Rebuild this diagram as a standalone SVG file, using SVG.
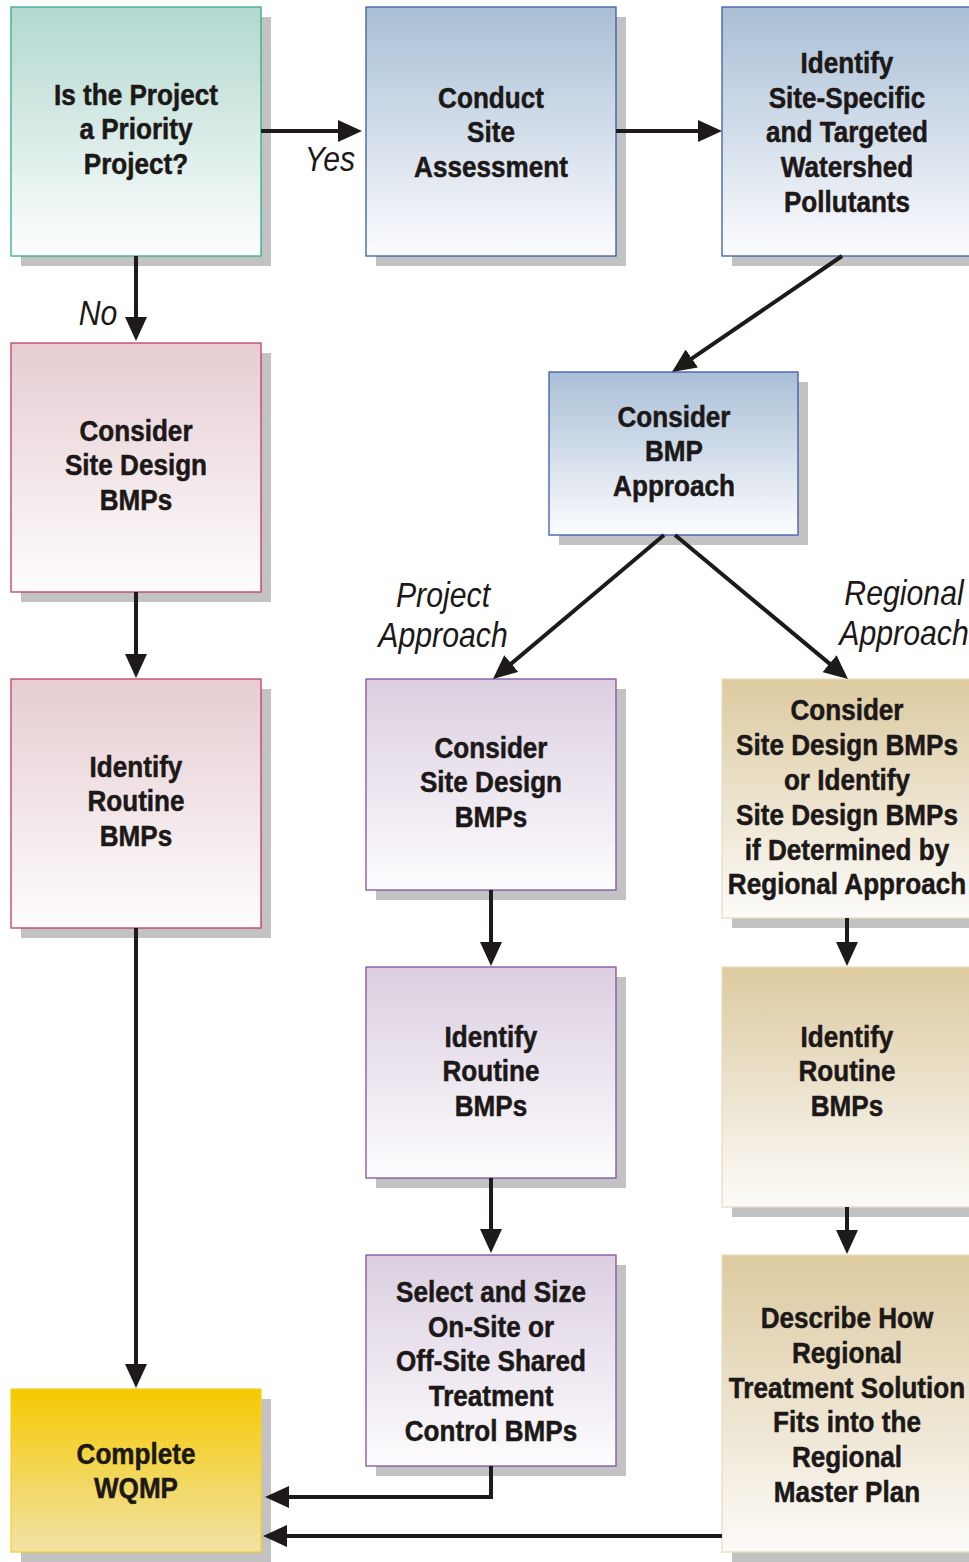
<svg xmlns="http://www.w3.org/2000/svg" width="969" height="1562" viewBox="0 0 969 1562">
<style>
.sh{fill:#c2c2c2}
.t{font-family:"Liberation Sans",Arial,sans-serif;font-weight:bold;font-size:29px;fill:#1c1818;stroke:#1c1818;stroke-width:0.5;text-anchor:middle}
.l{font-family:"Liberation Sans",Arial,sans-serif;font-style:italic;font-size:36px;fill:#1c1818;text-anchor:middle}
.c{fill:none;stroke:#1e1a1a;stroke-width:4}
</style>
<defs>
<linearGradient id="gTeal" x1="0" y1="0" x2="0" y2="1"><stop offset="0" stop-color="#b2d8cf"/><stop offset="1" stop-color="#fdfefe"/></linearGradient>
<linearGradient id="gBlue" x1="0" y1="0" x2="0" y2="1"><stop offset="0" stop-color="#a9bfd6"/><stop offset="1" stop-color="#fcfcfe"/></linearGradient>
<linearGradient id="gPink" x1="0" y1="0" x2="0" y2="1"><stop offset="0" stop-color="#e6cdd2"/><stop offset="1" stop-color="#fdfcfc"/></linearGradient>
<linearGradient id="gPurp" x1="0" y1="0" x2="0" y2="1"><stop offset="0" stop-color="#dbcfe0"/><stop offset="1" stop-color="#fdfcfe"/></linearGradient>
<linearGradient id="gTan" x1="0" y1="0" x2="0" y2="1"><stop offset="0" stop-color="#dccaa0"/><stop offset="1" stop-color="#fcfbf9"/></linearGradient>
<linearGradient id="gYel" x1="0" y1="0" x2="0" y2="1"><stop offset="0" stop-color="#f5c900"/><stop offset="1" stop-color="#f1e3a8"/></linearGradient>
<marker id="ah" markerUnits="userSpaceOnUse" markerWidth="24" markerHeight="22" refX="14" refY="11" orient="auto" viewBox="0 0 24 22">
<path d="M0,0 L24,11 L0,22 z" fill="#1e1a1a"/>
</marker>
</defs>

<g id="n1">
<rect class="sh" x="21" y="17" width="250" height="249"/>
<rect x="11" y="7" width="250" height="249" fill="url(#gTeal)" stroke="#2fae93" stroke-width="1.3"/>
<text class="t" transform="scale(0.9 1)"><tspan x="151.11" y="104.7">Is the Project</tspan><tspan x="151.11" y="139.5">a Priority</tspan><tspan x="151.11" y="174.3">Project?</tspan></text>
</g>

<g id="n2">
<rect class="sh" x="376" y="17" width="250" height="249"/>
<rect x="366" y="7" width="250" height="249" fill="url(#gBlue)" stroke="#3a5aa8" stroke-width="1.3"/>
<text class="t" transform="scale(0.9 1)"><tspan x="545.56" y="107.7">Conduct</tspan><tspan x="545.56" y="142.5">Site</tspan><tspan x="545.56" y="177.3">Assessment</tspan></text>
</g>

<g id="n3">
<rect class="sh" x="732" y="17" width="250" height="249"/>
<rect x="722" y="7" width="250" height="249" fill="url(#gBlue)" stroke="#3a5aa8" stroke-width="1.3"/>
<text class="t" transform="scale(0.9 1)"><tspan x="941.11" y="72.9">Identify</tspan><tspan x="941.11" y="107.7">Site-Specific</tspan><tspan x="941.11" y="142.5">and Targeted</tspan><tspan x="941.11" y="177.3">Watershed</tspan><tspan x="941.11" y="212.1">Pollutants</tspan></text>
</g>

<g id="n4">
<rect class="sh" x="559" y="382" width="249" height="163"/>
<rect x="549" y="372" width="249" height="163" fill="url(#gBlue)" stroke="#3a5aa8" stroke-width="1.3"/>
<text class="t" transform="scale(0.9 1)"><tspan x="748.89" y="426.7">Consider</tspan><tspan x="748.89" y="461.5">BMP</tspan><tspan x="748.89" y="496.3">Approach</tspan></text>
</g>

<g id="n5">
<rect class="sh" x="21" y="353" width="250" height="249"/>
<rect x="11" y="343" width="250" height="249" fill="url(#gPink)" stroke="#c0405a" stroke-width="1.3"/>
<text class="t" transform="scale(0.9 1)"><tspan x="151.11" y="440.7">Consider</tspan><tspan x="151.11" y="475.5">Site Design</tspan><tspan x="151.11" y="510.3">BMPs</tspan></text>
</g>

<g id="n6">
<rect class="sh" x="21" y="689" width="250" height="249"/>
<rect x="11" y="679" width="250" height="249" fill="url(#gPink)" stroke="#c0405a" stroke-width="1.3"/>
<text class="t" transform="scale(0.9 1)"><tspan x="151.11" y="776.7">Identify</tspan><tspan x="151.11" y="811.5">Routine</tspan><tspan x="151.11" y="846.3">BMPs</tspan></text>
</g>

<g id="n7">
<rect class="sh" x="21" y="1399" width="250" height="163"/>
<rect x="11" y="1389" width="250" height="163" fill="url(#gYel)" stroke="#f6d030" stroke-width="1.3"/>
<text class="t" transform="scale(0.9 1)"><tspan x="151.11" y="1463.6">Complete</tspan><tspan x="151.11" y="1498.4">WQMP</tspan></text>
</g>

<g id="n8">
<rect class="sh" x="376" y="689" width="250" height="211"/>
<rect x="366" y="679" width="250" height="211" fill="url(#gPurp)" stroke="#8050a0" stroke-width="1.3"/>
<text class="t" transform="scale(0.9 1)"><tspan x="545.56" y="757.7">Consider</tspan><tspan x="545.56" y="792.5">Site Design</tspan><tspan x="545.56" y="827.3">BMPs</tspan></text>
</g>

<g id="n9">
<rect class="sh" x="376" y="977" width="250" height="211"/>
<rect x="366" y="967" width="250" height="211" fill="url(#gPurp)" stroke="#8050a0" stroke-width="1.3"/>
<text class="t" transform="scale(0.9 1)"><tspan x="545.56" y="1046.7">Identify</tspan><tspan x="545.56" y="1081.5">Routine</tspan><tspan x="545.56" y="1116.3">BMPs</tspan></text>
</g>

<g id="n10">
<rect class="sh" x="376" y="1265" width="250" height="211"/>
<rect x="366" y="1255" width="250" height="211" fill="url(#gPurp)" stroke="#8050a0" stroke-width="1.3"/>
<text class="t" transform="scale(0.9 1)"><tspan x="545.56" y="1301.9">Select and Size</tspan><tspan x="545.56" y="1336.7">On-Site or</tspan><tspan x="545.56" y="1371.5">Off-Site Shared</tspan><tspan x="545.56" y="1406.3">Treatment</tspan><tspan x="545.56" y="1441.1">Control BMPs</tspan></text>
</g>

<g id="n11">
<rect class="sh" x="732" y="689" width="250" height="239"/>
<rect x="722" y="679" width="250" height="239" fill="url(#gTan)" stroke="#e8dcc0" stroke-width="1.3"/>
<text class="t" transform="scale(0.9 1)"><tspan x="941.11" y="720.5">Consider</tspan><tspan x="941.11" y="755.3">Site Design BMPs</tspan><tspan x="941.11" y="790.1">or Identify</tspan><tspan x="941.11" y="824.9">Site Design BMPs</tspan><tspan x="941.11" y="859.7">if Determined by</tspan><tspan x="941.11" y="894.5">Regional Approach</tspan></text>
</g>

<g id="n12">
<rect class="sh" x="732" y="977" width="250" height="240"/>
<rect x="722" y="967" width="250" height="240" fill="url(#gTan)" stroke="#e8dcc0" stroke-width="1.3"/>
<text class="t" transform="scale(0.9 1)"><tspan x="941.11" y="1046.7">Identify</tspan><tspan x="941.11" y="1081.5">Routine</tspan><tspan x="941.11" y="1116.3">BMPs</tspan></text>
</g>

<g id="n13">
<rect class="sh" x="732" y="1265" width="250" height="297"/>
<rect x="722" y="1255" width="250" height="297" fill="url(#gTan)" stroke="#e8dcc0" stroke-width="1.3"/>
<text class="t" transform="scale(0.9 1)"><tspan x="941.11" y="1328">Describe How</tspan><tspan x="941.11" y="1362.8">Regional</tspan><tspan x="941.11" y="1397.6">Treatment Solution</tspan><tspan x="941.11" y="1432.4">Fits into the</tspan><tspan x="941.11" y="1467.2">Regional</tspan><tspan x="941.11" y="1502">Master Plan</tspan></text>
</g>

<g id="connectors">
<path class="c" d="M261,131 H352" marker-end="url(#ah)"/>
<path class="c" d="M616,131 H712" marker-end="url(#ah)"/>
<path class="c" d="M842,256 L680.3,366.4" marker-end="url(#ah)"/>
<path class="c" d="M136,256 V331" marker-end="url(#ah)"/>
<path class="c" d="M136,592 V668" marker-end="url(#ah)"/>
<path class="c" d="M136,928 V1378" marker-end="url(#ah)"/>
<path class="c" d="M664,535 L500.6,672.6" marker-end="url(#ah)"/>
<path class="c" d="M675,535 L840.3,672.6" marker-end="url(#ah)"/>
<path class="c" d="M491,890 V956" marker-end="url(#ah)"/>
<path class="c" d="M491,1178 V1243" marker-end="url(#ah)"/>
<path class="c" d="M847,918 V956" marker-end="url(#ah)"/>
<path class="c" d="M847,1207 V1244" marker-end="url(#ah)"/>
<path class="c" d="M491,1466 V1497 H275" marker-end="url(#ah)"/>
<path class="c" d="M722,1536 H273" marker-end="url(#ah)"/>
<text class="l" transform="scale(0.84 1)" x="392.86" y="171">Yes</text>
<text class="l" transform="scale(0.84 1)" x="116.67" y="325">No</text>
<text class="l" transform="scale(0.84 1)"><tspan x="527.38" y="607">Project</tspan><tspan x="527.38" y="647">Approach</tspan></text>
<text class="l" transform="scale(0.84 1)"><tspan x="1076.19" y="605">Regional</tspan><tspan x="1076.19" y="645">Approach</tspan></text>
</g>
</svg>
